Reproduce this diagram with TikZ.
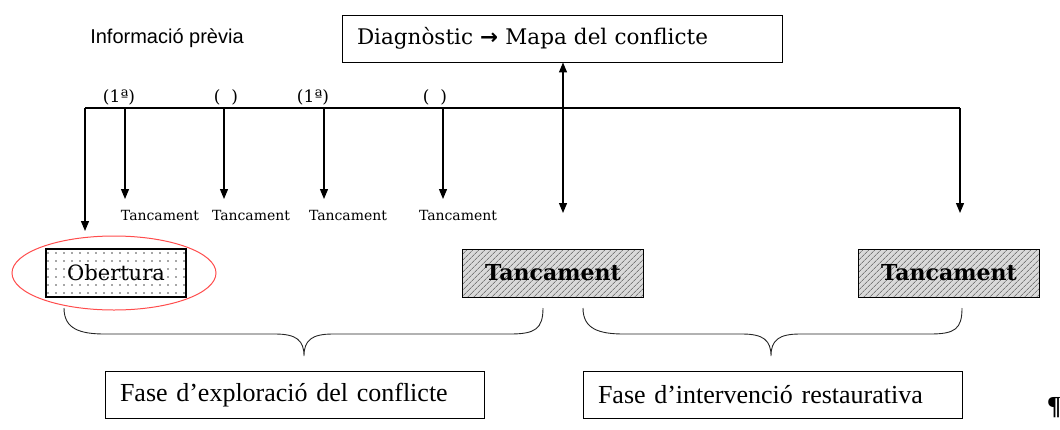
\documentclass[tikz,border=0pt]{standalone}
\usepackage{fontspec}
\setmainfont{DejaVu Serif}
\newfontfamily\timesfont{Liberation Serif}
\newfontfamily\arialfont{Liberation Sans}
\newfontfamily\arrowfont{DejaVu Sans}
\usetikzlibrary{arrows.meta,patterns.meta,shapes.geometric}

\begin{document}
\begin{tikzpicture}[x=1pt,y=-1pt,>={Triangle[length=10pt,width=8pt]},
	frame/.style={draw,line width=0.9pt,inner xsep=15pt,inner ysep=0pt,minimum height=47pt,align=left},
	closing/.style={draw,line width=0.9pt,minimum width=181pt,minimum height=48pt,inner sep=0pt,
		preaction={fill=gray!30},pattern={Lines[angle=45,distance=4pt,line width=0.6pt]},pattern color=gray!55!black,
		font=\fontsize{22}{26}\selectfont\bfseries},
	tag/.style={font=\fontsize{17}{20}\selectfont,inner sep=0pt},
	small/.style={font=\fontsize{14}{16}\selectfont,inner sep=0pt},
	link/.style={line width=1.2pt,->},
	brace/.style={line width=0.9pt,gray!30!black}]

\useasboundingbox (0,0) rectangle (1060,429);

% capcalera
\node[font=\arialfont\fontsize{20}{24}\selectfont] (info) at (167,38) {Informació prèvia};
\node[frame,text width=410pt,font=\fontsize{21.5}{25}\selectfont] (diag) at (562,38.5) {Diagnòstic {\arrowfont\bfseries →} Mapa del conflicte};

% linia de temps
\coordinate (lft) at (85,108);
\coordinate (rgt) at (960,108);
\coordinate (k1) at (125,108);
\coordinate (k2) at (224,108);
\coordinate (k3) at (324,108);
\coordinate (k4) at (443,108);
\coordinate (kd) at (563,108);

\coordinate (e0) at (85,231);
\coordinate (e1) at (125,199);
\coordinate (e2) at (224,199);
\coordinate (e3) at (324,199);
\coordinate (e4) at (443,199);
\coordinate (e5) at (960,213);
\coordinate (ed) at (563,213);

\draw[line width=2.5pt] (lft) -- (rgt);

\node[tag] (p1) at (119,97) {(1ª)};
\node[tag] (p2) at (226,97) {(\ \ )};
\node[tag] (p3) at (313,97) {(1ª)};
\node[tag] (p4) at (435,97) {(\ \ )};

\node[small] (c1) at (160,215) {Tancament};
\node[small] (c2) at (251,215) {Tancament};
\node[small] (c3) at (348,215) {Tancament};
\node[small] (c4) at (458,215) {Tancament};

\path[link] (lft) edge (e0)
	(k1) edge (e1)
	(k2) edge (e2)
	(k3) edge (e3)
	(k4) edge (e4)
	(rgt) edge (e5);
\draw[link,<->] (ed) -- (diag.south -| ed);

% caixes
\node[draw,line width=1.5pt,minimum width=140pt,minimum height=48pt,inner sep=0pt,
	pattern={Dots[distance=8pt,radius=0.8pt]},pattern color=gray!60!black,
	font=\fontsize{21}{25}\selectfont] (open) at (116,273) {Obertura};
\node[ellipse,draw=red!70,line width=1pt,minimum width=204pt,minimum height=74pt] (ring) at (114,273) {};
\node[closing] (shut1) at (553,273) {Tancament};
\node[closing] (shut2) at (949,273) {Tancament};

% claus
\draw[brace] (64,308) .. controls (64,329) and (80,334) .. (105,334) -- (275,334)
	.. controls (296,334) and (304,340) .. (304,356)
	.. controls (304,340) and (312,334) .. (333,334) -- (510,334)
	.. controls (535,334) and (543,329) .. (543,308);
\draw[brace] (583,308) .. controls (583,329) and (599,334) .. (624,334) -- (742,334)
	.. controls (763,334) and (771,340) .. (771,356)
	.. controls (771,340) and (779,334) .. (800,334) -- (930,334)
	.. controls (955,334) and (962,329) .. (962,308);

% fases
\node[frame,text width=349pt,font=\timesfont\fontsize{26}{30}\selectfont] (fase1) at (294.5,395) {Fase d’exploració del conflicte};
\node[frame,text width=349pt,font=\timesfont\fontsize{26}{30}\selectfont] (fase2) at (772.5,395) {Fase d’intervenció restaurativa};

\node[font=\timesfont\bfseries\fontsize{26}{30}\selectfont,anchor=west,inner sep=0pt] (pil) at (1047,408) {¶};

\end{tikzpicture}
\end{document}
